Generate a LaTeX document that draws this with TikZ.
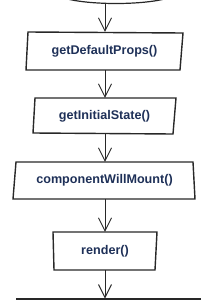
\documentclass[tikz,border=0pt]{standalone}
\usepackage{fontspec}
\setmainfont{Liberation Sans}
\usetikzlibrary{arrows.meta}
\definecolor{txt}{RGB}{30,48,88}
\definecolor{edge}{RGB}{40,40,40}
\tikzset{
  boxtext/.style={rectangle, draw=none, inner sep=0pt, font=\bfseries\fontsize{12.6}{14}\selectfont, text=txt},
  boxline/.style={draw=edge, line width=1.4pt, line join=miter},
  arr/.style={draw=edge, line width=0.9pt, -{Straight Barb[length=13pt,width=13pt,line width=0.9pt]}},
}
\begin{document}
\begin{tikzpicture}[x=1pt,y=-1pt]
\useasboundingbox (0,0) rectangle (201,300);
\fill[white] (0,0) rectangle (201,300);
% start terminator (bottom of ellipse)
\begin{scope}
\clip (0,0) rectangle (201,300);
\draw[boxline, line width=1.2pt] (116,-7.5) ellipse [x radius=60, y radius=11];
\end{scope}
\coordinate (start) at (105,3.5);
% boxes
\node[boxtext, minimum width=155pt, minimum height=38pt] (b1) at (104.5,51) {getDefaultProps()};
\node[boxtext, minimum width=141pt, minimum height=36pt] (b2) at (104.5,116) {getInitialState()};
\node[boxtext, minimum width=181pt, minimum height=37pt] (b3) at (104.5,180.5) {componentWillMount()};
\node[boxtext, minimum width=103pt, minimum height=38pt] (b4) at (105,251) {render()};
\draw[boxline] (28,32) -- (183,33) -- (180,70) -- (26,70) -- cycle;
\draw[boxline] (35,98) -- (176,98) -- (173,134) -- (33,133) -- cycle;
\draw[boxline] (16,162) -- (193,162) -- (195,199) -- (13,199) -- cycle;
\draw[boxline] (53,232) -- (157,232) -- (155,270) -- (54,270) -- cycle;
% next element (top edge)
\coordinate (nextL) at (16,299);
\coordinate (nextR) at (201,299);
\coordinate (next) at (105,298.5);
\draw[boxline] (nextL) -- (nextR);
% connectors
\draw[arr] (start) -- (b1.north -| start);
\draw[arr] (b1.south -| start) -- (b2.north -| start);
\draw[arr] (b2.south -| start) -- (b3.north -| start);
\draw[arr] (b3.south -| start) -- (b4.north -| start);
\draw[arr] (b4.south -| start) -- (next);
\end{tikzpicture}
\end{document}
